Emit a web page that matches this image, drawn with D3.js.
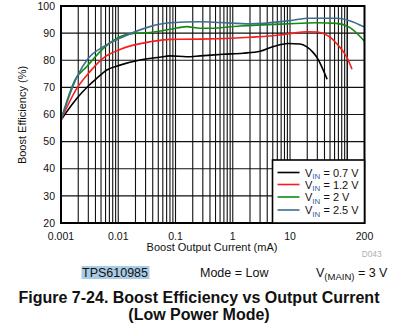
<!DOCTYPE html>
<html><head><meta charset="utf-8">
<script src="https://cdn.jsdelivr.net/npm/d3@7"></script>
<style>body{margin:0;background:#fff;}svg{display:block;font-family:"Liberation Sans",Arial,sans-serif;}</style>
</head><body>
<svg id="c" width="398" height="329"></svg>
<script>
// Data
const seriesNames = ["0.7 V", "1.2 V", "2 V", "2.5 V"];
const seriesColors = ["#000000", "#ff1a1a", "#128a12", "#3d6e8e"];
const i07 = [0.001, 0.0019, 0.003, 0.0042, 0.0063, 0.0107, 0.024, 0.053, 0.08, 0.156, 0.27, 0.68, 1.5, 3, 5, 9.3, 15, 19.4, 25, 29, 44.5];
const e07 = [58, 66, 70.5, 73.3, 76.4, 78.2, 80.1, 81.1, 81.6, 81.3, 81.6, 82.2, 82.6, 83.3, 85, 86.2, 86, 85, 83, 81.3, 73];
const i12 = [0.001, 0.0019, 0.0032, 0.0059, 0.0107, 0.0357, 0.08, 0.27, 2, 6.6, 12, 19.4, 30, 38, 50, 65, 97, 121];
const e12 = [58, 69.7, 75.8, 81.3, 84, 86.8, 87.7, 87.8, 88.5, 89.3, 90.1, 90.5, 90.4, 89.9, 88.5, 86.2, 81.3, 76.7];
const i20 = [0.001, 0.00175, 0.0028, 0.0055, 0.0107, 0.0183, 0.0357, 0.08, 0.156, 0.27, 0.4, 1.33, 8.7, 29, 65, 110, 200];
const e20 = [58, 72.7, 77.6, 84.4, 88.7, 89.9, 90.2, 91.4, 92.4, 91.8, 91.8, 92.6, 93.4, 93.8, 93.6, 92.1, 87];
const i25 = [0.001, 0.0019, 0.003, 0.0055, 0.0107, 0.0357, 0.08, 0.267, 0.6, 2, 9.9, 22, 65, 110, 200];
const e25 = [58, 73.9, 80.7, 85, 88.1, 92.4, 93.8, 94.2, 93.9, 93.4, 94.6, 95.5, 95.5, 94.6, 92.2];
const xTickLabels = [0.001, 0.01, 0.1, 1, 10, 200];
const yTickLabels = [20, 30, 40, 50, 60, 70, 80, 90, 100];

const seriesX = [i07, i12, i20, i25];
const seriesY = [e07, e12, e20, e25];

const svg = d3.select("#c");
const L = 61, R = 364.5, T = 6, B = 223;
const x = d3.scaleLog().domain([0.001, 200]).range([L, R]);
const y = d3.scaleLinear().domain([20, 100]).range([B, T]);

// grid
const vgrid = [];
for (let d = 0.001; d < 150; d *= 10) for (let m = 1; m <= 9; m++) { const v = +(d * m).toPrecision(3); if (v > 0.001 && v < 200) vgrid.push(v); }
vgrid.push(100);
const g = svg.append("g");
g.selectAll("line.v").data(vgrid).enter().append("line")
  .attr("x1", d => x(d)).attr("x2", d => x(d)).attr("y1", T).attr("y2", B)
  .attr("stroke", "#111").attr("stroke-width", 1.1);
g.selectAll("line.h").data(yTickLabels.slice(1, -1)).enter().append("line")
  .attr("x1", L).attr("x2", R).attr("y1", d => y(d)).attr("y2", d => y(d))
  .attr("stroke", "#111").attr("stroke-width", 1.1);

// curves
const line = d3.line().x(d => x(d[0])).y(d => y(d[1])).curve(d3.curveMonotoneX);
seriesX.forEach((xs, k) => {
  svg.append("path").datum(xs.map((v, j) => [v, seriesY[k][j]]))
    .attr("d", line).attr("fill", "none").attr("stroke", seriesColors[k]).attr("stroke-width", 1.6);
});

// frame
svg.append("rect").attr("x", L).attr("y", T).attr("width", R - L).attr("height", B - T)
  .attr("fill", "none").attr("stroke", "#000").attr("stroke-width", 2);

// y ticks labels
svg.append("g").selectAll("text").data(yTickLabels).enter().append("text")
  .attr("x", 55).attr("y", d => y(d) + 3.7).attr("text-anchor", "end")
  .attr("font-size", "10.5px").attr("fill", "#111").text(d => d);
// x tick labels
svg.append("g").selectAll("text").data(xTickLabels).enter().append("text")
  .attr("x", d => x(d)).attr("y", 240).attr("text-anchor", "middle")
  .attr("font-size", "10.5px").attr("fill", "#111").text(d => d);

// axis titles
svg.append("text").attr("x", 212).attr("y", 251).attr("text-anchor", "middle")
  .attr("font-size", "11px").attr("fill", "#111").text("Boost Output Current (mA)");
svg.append("text").attr("transform", "translate(26,115) rotate(-90)").attr("text-anchor", "middle")
  .attr("font-size", "11px").attr("fill", "#111").text("Boost Efficiency (%)");
svg.append("text").attr("x", 381.5).attr("y", 257).attr("text-anchor", "end")
  .attr("font-size", "8.3px").attr("fill", "#b0b0b0").text("D043");

// legend
svg.append("rect").attr("x", 272.5).attr("y", 160).attr("width", R - 272.5).attr("height", B - 160)
  .attr("fill", "#fff").attr("stroke", "#000").attr("stroke-width", 1.6);
const legY = [172.5, 184.5, 197, 210];
seriesNames.forEach((n, k) => {
  svg.append("line").attr("x1", 277.5).attr("x2", 299.5).attr("y1", legY[k]).attr("y2", legY[k])
    .attr("stroke", seriesColors[k]).attr("stroke-width", 1.6);
  const t = svg.append("text").attr("x", 305).attr("y", legY[k] + 4).attr("font-size", "11px").attr("fill", "#111");
  t.append("tspan").text("V");
  t.append("tspan").attr("font-size", "8px").attr("dy", 2.5).attr("fill", "#3a5f9a").text("IN");
  t.append("tspan").attr("dy", -2.5).text(" = " + n);
});

// footer
svg.append("rect").attr("x", 81.5).attr("y", 266).attr("width", 68).attr("height", 13).attr("fill", "#a9cbe6");
svg.append("text").attr("x", 82).attr("y", 277).attr("font-size", "12.5px").attr("fill", "#111").text("TPS610985");
svg.append("text").attr("x", 200).attr("y", 277).attr("font-size", "12.5px").attr("fill", "#111").text("Mode = Low");
const vm = svg.append("text").attr("x", 316).attr("y", 277).attr("font-size", "12.5px").attr("fill", "#111");
vm.append("tspan").text("V");
vm.append("tspan").attr("font-size", "9.5px").attr("dy", 3).text("(MAIN)");
vm.append("tspan").attr("dy", -3).text(" = 3 V");

svg.append("text").attr("x", 199).attr("y", 303).attr("text-anchor", "middle")
  .attr("font-size", "16px").attr("font-weight", "bold").attr("fill", "#111")
  .text("Figure 7-24. Boost Efficiency vs Output Current");
svg.append("text").attr("x", 199).attr("y", 320).attr("text-anchor", "middle")
  .attr("font-size", "16px").attr("font-weight", "bold").attr("fill", "#111")
  .text("(Low Power Mode)");
</script>
</body></html>
